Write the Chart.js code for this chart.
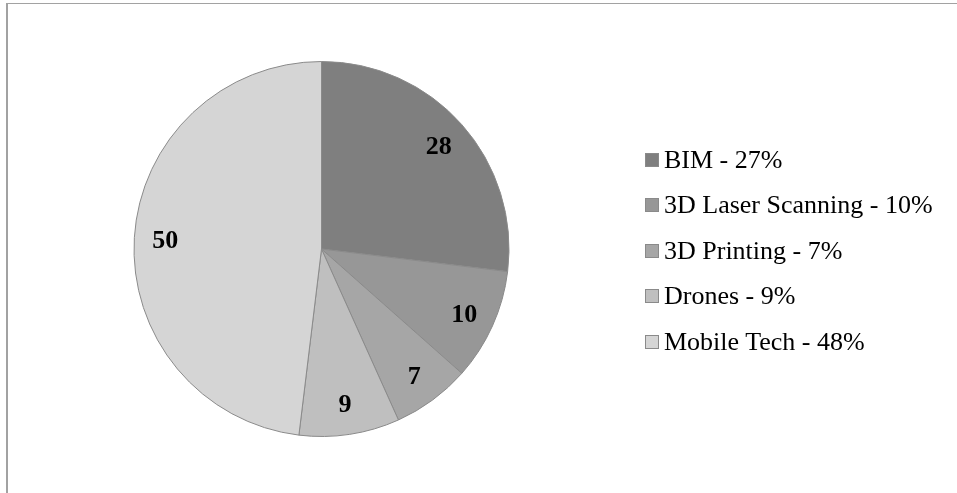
<!DOCTYPE html>
<html>
<head>
<meta charset="utf-8">
<script src="https://cdn.jsdelivr.net/npm/chart.js@4.4.1/dist/chart.umd.min.js"></script>
<style>
  html, body { margin: 0; padding: 0; background: #fff; }
  #wrap { position: relative; width: 957px; height: 493px; overflow: hidden; }
  #frame { position: absolute; left: 6px; top: 3px; right: -2px; bottom: -2px;
           border-top: 1px solid #a2a2a2; border-left: 2px solid #a2a2a2; }
  canvas { position: absolute; left: 0; top: 0; }
  #legend { position: absolute; left: 645px; top: 137px; font-family: "Liberation Serif", "Times New Roman", serif;
            font-size: 26px; color: #000; }
  .item { height: 45.5px; display: flex; align-items: center; white-space: nowrap; }
  .box { width: 12px; height: 12px; border: 1px solid #8a8a8a; margin-right: 5px; flex: none; }
</style>
</head>
<body>
<div id="wrap">
  <div id="frame"></div>
  <canvas id="c" width="957" height="493"></canvas>
  <div id="legend"></div>
</div>
<script>
// Technology adoption shares
const categories = ["BIM", "3D Laser Scanning", "3D Printing", "Drones", "Mobile Tech"];
const counts = [28, 10, 7, 9, 50];
const percents = [27, 10, 7, 9, 48];
const sliceColors = ["#7f7f7f", "#979797", "#a6a6a6", "#bfbfbf", "#d5d5d5"];

// Bold value labels placed inside each slice
const sliceLabels = {
  id: "sliceLabels",
  afterDatasetsDraw(chart) {
    const ctx = chart.ctx;
    const meta = chart.getDatasetMeta(0);
    ctx.save();
    ctx.font = "bold 26px 'Liberation Serif', 'Times New Roman', serif";
    ctx.fillStyle = "#000";
    ctx.textAlign = "center";
    ctx.textBaseline = "middle";
    meta.data.forEach((arc, i) => {
      const p = arc.getProps(["x", "y", "startAngle", "endAngle", "outerRadius"], true);
      const mid = (p.startAngle + p.endAngle) / 2;
      const r = p.outerRadius * 0.835;
      ctx.fillText(String(counts[i]), p.x + Math.cos(mid) * r, p.y + Math.sin(mid) * r + 2);
    });
    ctx.restore();
  }
};

new Chart(document.getElementById("c"), {
  type: "pie",
  data: {
    labels: categories,
    datasets: [{
      data: counts,
      backgroundColor: sliceColors,
      borderColor: "#8a8a8a",
      borderWidth: 1
    }]
  },
  options: {
    responsive: false,
    animation: false,
    layout: { padding: { left: 133, right: 447, top: 61, bottom: 56 } },
    plugins: { legend: { display: false }, tooltip: { enabled: false } }
  },
  plugins: [sliceLabels]
});

// Legend beside the pie
const legend = document.getElementById("legend");
categories.forEach((name, i) => {
  const row = document.createElement("div");
  row.className = "item";
  const box = document.createElement("span");
  box.className = "box";
  box.style.background = sliceColors[i];
  const text = document.createElement("span");
  text.textContent = name + " - " + percents[i] + "%";
  row.appendChild(box);
  row.appendChild(text);
  legend.appendChild(row);
});
</script>
</body>
</html>
